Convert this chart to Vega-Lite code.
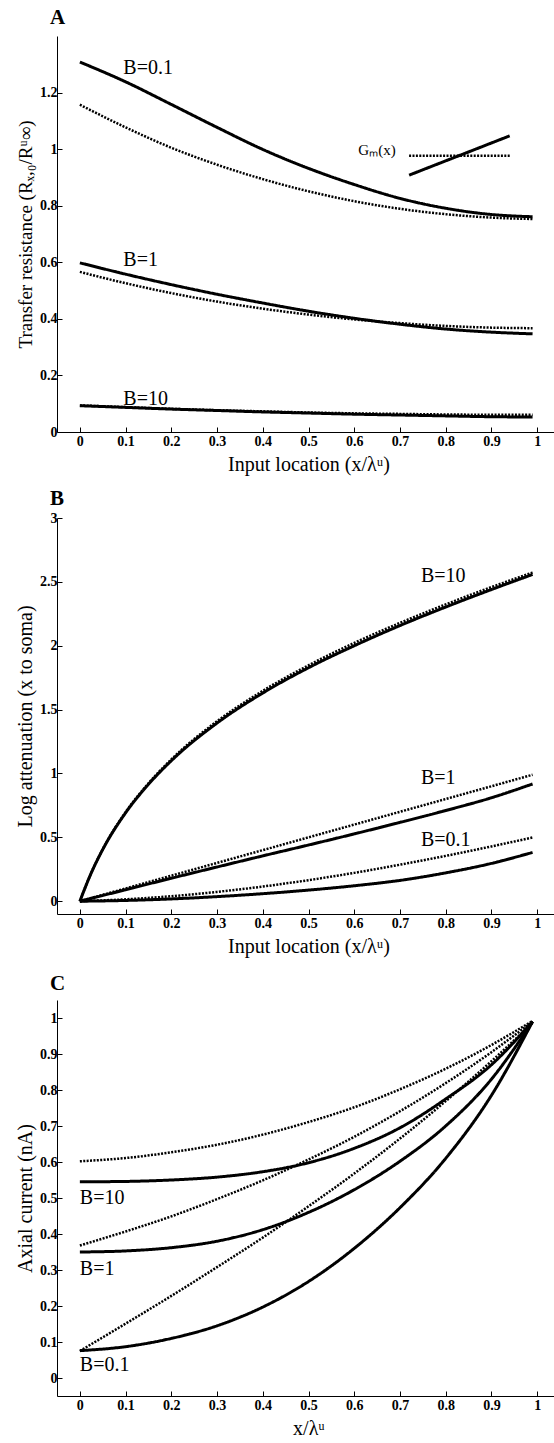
{
  "$schema": "https://vega.github.io/schema/vega-lite/v6.json",
  "background": "white",
  "padding": {"left": 15, "top": 7, "right": 0, "bottom": 0},
  "spacing": 86,
  "bounds": "flush",
  "config": {
    "view": {"stroke": null},
    "font": "Liberation Serif",
    "axis": {
      "grid": false, "domainColor": "black", "tickColor": "black", "labelColor": "black", "titleColor": "black",
      "labelFont": "Liberation Serif", "labelFontWeight": "bold", "labelFontSize": 14, "labelOverlap": false,
      "titleFont": "Liberation Serif", "titleFontSize": 20, "titleFontWeight": "normal",
      "tickSize": -5, "domainWidth": 1, "tickWidth": 1, "format": "~g"
    },
    "axisX": {"labelPadding": 7, "titlePadding": 6},
    "axisY": {"labelPadding": 5, "titlePadding": 4},
    "title": {"font": "Liberation Serif", "fontSize": 21, "fontWeight": "bold", "anchor": "start", "color": "black", "frame": "group"}
  },
  "datasets": {
    "curves": [
      {"p":"A","series":"b01s","style":"solid","x":0,"y":1.308},{"p":"A","series":"b01s","style":"solid","x":0.1,"y":1.238},{"p":"A","series":"b01s","style":"solid","x":0.2,"y":1.158},{"p":"A","series":"b01s","style":"solid","x":0.3,"y":1.077},{"p":"A","series":"b01s","style":"solid","x":0.4,"y":0.999},{"p":"A","series":"b01s","style":"solid","x":0.5,"y":0.932},{"p":"A","series":"b01s","style":"solid","x":0.6,"y":0.875},{"p":"A","series":"b01s","style":"solid","x":0.7,"y":0.826},{"p":"A","series":"b01s","style":"solid","x":0.8,"y":0.791},{"p":"A","series":"b01s","style":"solid","x":0.9,"y":0.769},{"p":"A","series":"b01s","style":"solid","x":0.99,"y":0.761},
      {"p":"A","series":"b01d","style":"dotted","x":0,"y":1.157},{"p":"A","series":"b01d","style":"dotted","x":0.1,"y":1.077},{"p":"A","series":"b01d","style":"dotted","x":0.2,"y":1.005},{"p":"A","series":"b01d","style":"dotted","x":0.3,"y":0.945},{"p":"A","series":"b01d","style":"dotted","x":0.4,"y":0.894},{"p":"A","series":"b01d","style":"dotted","x":0.5,"y":0.851},{"p":"A","series":"b01d","style":"dotted","x":0.6,"y":0.816},{"p":"A","series":"b01d","style":"dotted","x":0.7,"y":0.789},{"p":"A","series":"b01d","style":"dotted","x":0.8,"y":0.77},{"p":"A","series":"b01d","style":"dotted","x":0.9,"y":0.758},{"p":"A","series":"b01d","style":"dotted","x":0.99,"y":0.753},
      {"p":"A","series":"b1s","style":"solid","x":0,"y":0.598},{"p":"A","series":"b1s","style":"solid","x":0.1,"y":0.558},{"p":"A","series":"b1s","style":"solid","x":0.2,"y":0.521},{"p":"A","series":"b1s","style":"solid","x":0.3,"y":0.487},{"p":"A","series":"b1s","style":"solid","x":0.4,"y":0.456},{"p":"A","series":"b1s","style":"solid","x":0.5,"y":0.427},{"p":"A","series":"b1s","style":"solid","x":0.6,"y":0.402},{"p":"A","series":"b1s","style":"solid","x":0.7,"y":0.381},{"p":"A","series":"b1s","style":"solid","x":0.8,"y":0.364},{"p":"A","series":"b1s","style":"solid","x":0.9,"y":0.353},{"p":"A","series":"b1s","style":"solid","x":0.99,"y":0.347},
      {"p":"A","series":"b1d","style":"dotted","x":0,"y":0.566},{"p":"A","series":"b1d","style":"dotted","x":0.1,"y":0.526},{"p":"A","series":"b1d","style":"dotted","x":0.2,"y":0.491},{"p":"A","series":"b1d","style":"dotted","x":0.3,"y":0.461},{"p":"A","series":"b1d","style":"dotted","x":0.4,"y":0.436},{"p":"A","series":"b1d","style":"dotted","x":0.5,"y":0.415},{"p":"A","series":"b1d","style":"dotted","x":0.6,"y":0.398},{"p":"A","series":"b1d","style":"dotted","x":0.7,"y":0.385},{"p":"A","series":"b1d","style":"dotted","x":0.8,"y":0.375},{"p":"A","series":"b1d","style":"dotted","x":0.9,"y":0.369},{"p":"A","series":"b1d","style":"dotted","x":0.99,"y":0.367},
      {"p":"A","series":"b10s","style":"solid","x":0,"y":0.093},{"p":"A","series":"b10s","style":"solid","x":0.1,"y":0.087},{"p":"A","series":"b10s","style":"solid","x":0.2,"y":0.081},{"p":"A","series":"b10s","style":"solid","x":0.3,"y":0.076},{"p":"A","series":"b10s","style":"solid","x":0.4,"y":0.071},{"p":"A","series":"b10s","style":"solid","x":0.5,"y":0.067},{"p":"A","series":"b10s","style":"solid","x":0.6,"y":0.063},{"p":"A","series":"b10s","style":"solid","x":0.7,"y":0.06},{"p":"A","series":"b10s","style":"solid","x":0.8,"y":0.057},{"p":"A","series":"b10s","style":"solid","x":0.9,"y":0.054},{"p":"A","series":"b10s","style":"solid","x":0.99,"y":0.053},
      {"p":"A","series":"b10d","style":"dotted","x":0,"y":0.094},{"p":"A","series":"b10d","style":"dotted","x":0.1,"y":0.088},{"p":"A","series":"b10d","style":"dotted","x":0.2,"y":0.082},{"p":"A","series":"b10d","style":"dotted","x":0.3,"y":0.077},{"p":"A","series":"b10d","style":"dotted","x":0.4,"y":0.073},{"p":"A","series":"b10d","style":"dotted","x":0.5,"y":0.069},{"p":"A","series":"b10d","style":"dotted","x":0.6,"y":0.066},{"p":"A","series":"b10d","style":"dotted","x":0.7,"y":0.064},{"p":"A","series":"b10d","style":"dotted","x":0.8,"y":0.062},{"p":"A","series":"b10d","style":"dotted","x":0.9,"y":0.061},{"p":"A","series":"b10d","style":"dotted","x":0.99,"y":0.061},
      {"p":"A","series":"gms","style":"solid","x":0.72,"y":0.908},{"p":"A","series":"gms","style":"solid","x":0.94,"y":1.047},
      {"p":"A","series":"gmd","style":"dotted","x":0.72,"y":0.977},{"p":"A","series":"gmd","style":"dotted","x":0.94,"y":0.977},

      {"p":"B","series":"b10d","style":"dotted","x":0,"y":0},{"p":"B","series":"b10d","style":"dotted","x":0.025,"y":0.223},{"p":"B","series":"b10d","style":"dotted","x":0.05,"y":0.407},{"p":"B","series":"b10d","style":"dotted","x":0.1,"y":0.697},{"p":"B","series":"b10d","style":"dotted","x":0.15,"y":0.923},{"p":"B","series":"b10d","style":"dotted","x":0.2,"y":1.11},{"p":"B","series":"b10d","style":"dotted","x":0.3,"y":1.409},{"p":"B","series":"b10d","style":"dotted","x":0.4,"y":1.647},{"p":"B","series":"b10d","style":"dotted","x":0.5,"y":1.847},{"p":"B","series":"b10d","style":"dotted","x":0.6,"y":2.022},{"p":"B","series":"b10d","style":"dotted","x":0.7,"y":2.179},{"p":"B","series":"b10d","style":"dotted","x":0.8,"y":2.324},{"p":"B","series":"b10d","style":"dotted","x":0.9,"y":2.459},{"p":"B","series":"b10d","style":"dotted","x":0.99,"y":2.573},
      {"p":"B","series":"b10s","style":"solid","x":0,"y":0},{"p":"B","series":"b10s","style":"solid","x":0.025,"y":0.222},{"p":"B","series":"b10s","style":"solid","x":0.05,"y":0.405},{"p":"B","series":"b10s","style":"solid","x":0.1,"y":0.692},{"p":"B","series":"b10s","style":"solid","x":0.15,"y":0.915},{"p":"B","series":"b10s","style":"solid","x":0.2,"y":1.1},{"p":"B","series":"b10s","style":"solid","x":0.3,"y":1.395},{"p":"B","series":"b10s","style":"solid","x":0.4,"y":1.63},{"p":"B","series":"b10s","style":"solid","x":0.5,"y":1.828},{"p":"B","series":"b10s","style":"solid","x":0.6,"y":2.0},{"p":"B","series":"b10s","style":"solid","x":0.7,"y":2.158},{"p":"B","series":"b10s","style":"solid","x":0.8,"y":2.303},{"p":"B","series":"b10s","style":"solid","x":0.9,"y":2.44},{"p":"B","series":"b10s","style":"solid","x":0.99,"y":2.558},
      {"p":"B","series":"b1d","style":"dotted","x":0,"y":0},{"p":"B","series":"b1d","style":"dotted","x":0.2,"y":0.2},{"p":"B","series":"b1d","style":"dotted","x":0.4,"y":0.4},{"p":"B","series":"b1d","style":"dotted","x":0.6,"y":0.6},{"p":"B","series":"b1d","style":"dotted","x":0.8,"y":0.8},{"p":"B","series":"b1d","style":"dotted","x":0.99,"y":0.99},
      {"p":"B","series":"b1s","style":"solid","x":0,"y":0},{"p":"B","series":"b1s","style":"solid","x":0.1,"y":0.09},{"p":"B","series":"b1s","style":"solid","x":0.2,"y":0.18},{"p":"B","series":"b1s","style":"solid","x":0.3,"y":0.268},{"p":"B","series":"b1s","style":"solid","x":0.4,"y":0.355},{"p":"B","series":"b1s","style":"solid","x":0.5,"y":0.44},{"p":"B","series":"b1s","style":"solid","x":0.6,"y":0.527},{"p":"B","series":"b1s","style":"solid","x":0.7,"y":0.617},{"p":"B","series":"b1s","style":"solid","x":0.8,"y":0.71},{"p":"B","series":"b1s","style":"solid","x":0.9,"y":0.81},{"p":"B","series":"b1s","style":"solid","x":0.99,"y":0.918},
      {"p":"B","series":"b01d","style":"dotted","x":0,"y":0},{"p":"B","series":"b01d","style":"dotted","x":0.1,"y":0.015},{"p":"B","series":"b01d","style":"dotted","x":0.2,"y":0.039},{"p":"B","series":"b01d","style":"dotted","x":0.3,"y":0.073},{"p":"B","series":"b01d","style":"dotted","x":0.4,"y":0.115},{"p":"B","series":"b01d","style":"dotted","x":0.5,"y":0.165},{"p":"B","series":"b01d","style":"dotted","x":0.6,"y":0.222},{"p":"B","series":"b01d","style":"dotted","x":0.7,"y":0.286},{"p":"B","series":"b01d","style":"dotted","x":0.8,"y":0.355},{"p":"B","series":"b01d","style":"dotted","x":0.9,"y":0.429},{"p":"B","series":"b01d","style":"dotted","x":0.99,"y":0.499},
      {"p":"B","series":"b01s","style":"solid","x":0,"y":0},{"p":"B","series":"b01s","style":"solid","x":0.1,"y":0.006},{"p":"B","series":"b01s","style":"solid","x":0.2,"y":0.018},{"p":"B","series":"b01s","style":"solid","x":0.3,"y":0.036},{"p":"B","series":"b01s","style":"solid","x":0.4,"y":0.059},{"p":"B","series":"b01s","style":"solid","x":0.5,"y":0.087},{"p":"B","series":"b01s","style":"solid","x":0.6,"y":0.121},{"p":"B","series":"b01s","style":"solid","x":0.7,"y":0.163},{"p":"B","series":"b01s","style":"solid","x":0.8,"y":0.222},{"p":"B","series":"b01s","style":"solid","x":0.9,"y":0.296},{"p":"B","series":"b01s","style":"solid","x":0.99,"y":0.382},

      {"p":"C","series":"b10d","style":"dotted","x":0,"y":0.602},{"p":"C","series":"b10d","style":"dotted","x":0.1,"y":0.611},{"p":"C","series":"b10d","style":"dotted","x":0.2,"y":0.627},{"p":"C","series":"b10d","style":"dotted","x":0.3,"y":0.648},{"p":"C","series":"b10d","style":"dotted","x":0.4,"y":0.676},{"p":"C","series":"b10d","style":"dotted","x":0.5,"y":0.711},{"p":"C","series":"b10d","style":"dotted","x":0.6,"y":0.752},{"p":"C","series":"b10d","style":"dotted","x":0.7,"y":0.802},{"p":"C","series":"b10d","style":"dotted","x":0.8,"y":0.859},{"p":"C","series":"b10d","style":"dotted","x":0.9,"y":0.925},{"p":"C","series":"b10d","style":"dotted","x":0.99,"y":0.992},
      {"p":"C","series":"b1d","style":"dotted","x":0,"y":0.368},{"p":"C","series":"b1d","style":"dotted","x":0.1,"y":0.407},{"p":"C","series":"b1d","style":"dotted","x":0.2,"y":0.449},{"p":"C","series":"b1d","style":"dotted","x":0.3,"y":0.497},{"p":"C","series":"b1d","style":"dotted","x":0.4,"y":0.549},{"p":"C","series":"b1d","style":"dotted","x":0.5,"y":0.607},{"p":"C","series":"b1d","style":"dotted","x":0.6,"y":0.67},{"p":"C","series":"b1d","style":"dotted","x":0.7,"y":0.741},{"p":"C","series":"b1d","style":"dotted","x":0.8,"y":0.819},{"p":"C","series":"b1d","style":"dotted","x":0.9,"y":0.905},{"p":"C","series":"b1d","style":"dotted","x":0.99,"y":0.99},
      {"p":"C","series":"b01d","style":"dotted","x":0,"y":0.075},{"p":"C","series":"b01d","style":"dotted","x":0.1,"y":0.151},{"p":"C","series":"b01d","style":"dotted","x":0.2,"y":0.228},{"p":"C","series":"b01d","style":"dotted","x":0.3,"y":0.308},{"p":"C","series":"b01d","style":"dotted","x":0.4,"y":0.39},{"p":"C","series":"b01d","style":"dotted","x":0.5,"y":0.477},{"p":"C","series":"b01d","style":"dotted","x":0.6,"y":0.568},{"p":"C","series":"b01d","style":"dotted","x":0.7,"y":0.665},{"p":"C","series":"b01d","style":"dotted","x":0.8,"y":0.769},{"p":"C","series":"b01d","style":"dotted","x":0.9,"y":0.88},{"p":"C","series":"b01d","style":"dotted","x":0.99,"y":0.986},
      {"p":"C","series":"b10s","style":"solid","x":0,"y":0.545},{"p":"C","series":"b10s","style":"solid","x":0.1,"y":0.546},{"p":"C","series":"b10s","style":"solid","x":0.2,"y":0.55},{"p":"C","series":"b10s","style":"solid","x":0.3,"y":0.558},{"p":"C","series":"b10s","style":"solid","x":0.4,"y":0.573},{"p":"C","series":"b10s","style":"solid","x":0.5,"y":0.598},{"p":"C","series":"b10s","style":"solid","x":0.6,"y":0.638},{"p":"C","series":"b10s","style":"solid","x":0.7,"y":0.695},{"p":"C","series":"b10s","style":"solid","x":0.8,"y":0.775},{"p":"C","series":"b10s","style":"solid","x":0.9,"y":0.87},{"p":"C","series":"b10s","style":"solid","x":0.99,"y":0.99},
      {"p":"C","series":"b1s","style":"solid","x":0,"y":0.35},{"p":"C","series":"b1s","style":"solid","x":0.1,"y":0.353},{"p":"C","series":"b1s","style":"solid","x":0.2,"y":0.362},{"p":"C","series":"b1s","style":"solid","x":0.3,"y":0.38},{"p":"C","series":"b1s","style":"solid","x":0.4,"y":0.412},{"p":"C","series":"b1s","style":"solid","x":0.5,"y":0.46},{"p":"C","series":"b1s","style":"solid","x":0.6,"y":0.523},{"p":"C","series":"b1s","style":"solid","x":0.7,"y":0.602},{"p":"C","series":"b1s","style":"solid","x":0.8,"y":0.7},{"p":"C","series":"b1s","style":"solid","x":0.9,"y":0.83},{"p":"C","series":"b1s","style":"solid","x":0.99,"y":0.99},
      {"p":"C","series":"b01s","style":"solid","x":0,"y":0.076},{"p":"C","series":"b01s","style":"solid","x":0.1,"y":0.087},{"p":"C","series":"b01s","style":"solid","x":0.2,"y":0.11},{"p":"C","series":"b01s","style":"solid","x":0.3,"y":0.145},{"p":"C","series":"b01s","style":"solid","x":0.4,"y":0.197},{"p":"C","series":"b01s","style":"solid","x":0.5,"y":0.268},{"p":"C","series":"b01s","style":"solid","x":0.6,"y":0.36},{"p":"C","series":"b01s","style":"solid","x":0.7,"y":0.473},{"p":"C","series":"b01s","style":"solid","x":0.8,"y":0.61},{"p":"C","series":"b01s","style":"solid","x":0.9,"y":0.785},{"p":"C","series":"b01s","style":"solid","x":0.99,"y":0.99}
    ],
    "labels": [
      {"p":"A","label":"B=0.1","x":0.095,"y":1.267},
      {"p":"A","label":"B=1","x":0.095,"y":0.588},
      {"p":"A","label":"B=10","x":0.095,"y":0.096},
      {"p":"B","label":"B=10","x":0.746,"y":2.498},
      {"p":"B","label":"B=1","x":0.746,"y":0.915},
      {"p":"B","label":"B=0.1","x":0.746,"y":0.43},
      {"p":"C","label":"B=10","x":0,"y":0.483},
      {"p":"C","label":"B=1","x":0,"y":0.286},
      {"p":"C","label":"B=0.1","x":0,"y":0.02}
    ],
    "gm": [{"label":"Gₘ(x)","x":0.609,"y":0.979}]
  },
  "vconcat": [
    {
      "width": 503, "height": 396,
      "title": {"text": "A", "dx": -7, "dy": 20, "offset": 11, "baseline": "alphabetic"},
      "layer": [
        {
          "data": {"name": "curves"},
          "transform": [{"filter": "datum.p === 'A'"}],
          "mark": {"type": "line", "interpolate": "monotone", "color": "black"},
          "encoding": {
            "x": {"field": "x", "type": "quantitative", "scale": {"domain": [-0.05, 1.05], "nice": false, "zero": false},
                  "axis": {"values": [0,0.1,0.2,0.3,0.4,0.5,0.6,0.7,0.8,0.9,1], "labelOverlap": false, "title": "Input location (x/λᵘ)"}},
            "y": {"field": "y", "type": "quantitative", "scale": {"domain": [0, 1.4], "nice": false},
                  "axis": {"values": [0,0.2,0.4,0.6,0.8,1,1.2], "labelOverlap": false, "title": "Transfer resistance (Rₓ,₀/Rᵘ∞)", "titleFontSize": 19}},
            "detail": {"field": "series"},
            "strokeDash": {"field": "style", "type": "nominal", "scale": {"domain": ["solid","dotted"], "range": [[1,0],[2,1.4]]}, "legend": null},
            "strokeWidth": {"field": "style", "type": "nominal", "scale": {"domain": ["solid","dotted"], "range": [3,2.5]}, "legend": null}
          }
        },
        {
          "data": {"name": "labels"},
          "transform": [{"filter": "datum.p === 'A'"}],
          "mark": {"type": "text", "align": "left", "baseline": "alphabetic", "fontSize": 20, "font": "Liberation Serif", "color": "black"},
          "encoding": {"x": {"field": "x", "type": "quantitative"}, "y": {"field": "y", "type": "quantitative"}, "text": {"field": "label"}}
        },
        {
          "data": {"name": "gm"},
          "mark": {"type": "text", "align": "left", "baseline": "alphabetic", "fontSize": 15, "font": "Liberation Serif", "color": "black"},
          "encoding": {"x": {"field": "x", "type": "quantitative"}, "y": {"field": "y", "type": "quantitative"}, "text": {"field": "label"}}
        }
      ]
    },
    {
      "width": 503, "height": 396,
      "title": {"text": "B", "dx": -7, "dy": 26, "offset": 11, "baseline": "alphabetic"},
      "layer": [
        {
          "data": {"name": "curves"},
          "transform": [{"filter": "datum.p === 'B'"}],
          "mark": {"type": "line", "interpolate": "monotone", "color": "black"},
          "encoding": {
            "x": {"field": "x", "type": "quantitative", "scale": {"domain": [-0.05, 1.05], "nice": false, "zero": false},
                  "axis": {"values": [0,0.1,0.2,0.3,0.4,0.5,0.6,0.7,0.8,0.9,1], "labelOverlap": false, "title": "Input location (x/λᵘ)"}},
            "y": {"field": "y", "type": "quantitative", "scale": {"domain": [-0.1, 3], "nice": false, "zero": false},
                  "axis": {"values": [0,0.5,1,1.5,2,2.5,3], "labelOverlap": false, "title": "Log attenuation (x to soma)"}},
            "detail": {"field": "series"},
            "strokeDash": {"field": "style", "type": "nominal", "scale": {"domain": ["solid","dotted"], "range": [[1,0],[2,1.4]]}, "legend": null},
            "strokeWidth": {"field": "style", "type": "nominal", "scale": {"domain": ["solid","dotted"], "range": [3,2.5]}, "legend": null}
          }
        },
        {
          "data": {"name": "labels"},
          "transform": [{"filter": "datum.p === 'B'"}],
          "mark": {"type": "text", "align": "left", "baseline": "alphabetic", "fontSize": 20, "font": "Liberation Serif", "color": "black"},
          "encoding": {"x": {"field": "x", "type": "quantitative"}, "y": {"field": "y", "type": "quantitative"}, "text": {"field": "label"}}
        }
      ]
    },
    {
      "width": 503, "height": 396,
      "title": {"text": "C", "dx": -7, "dy": 22, "offset": 11, "baseline": "alphabetic"},
      "layer": [
        {
          "data": {"name": "curves"},
          "transform": [{"filter": "datum.p === 'C'"}],
          "mark": {"type": "line", "interpolate": "monotone", "color": "black"},
          "encoding": {
            "x": {"field": "x", "type": "quantitative", "scale": {"domain": [-0.05, 1.05], "nice": false, "zero": false},
                  "axis": {"values": [0,0.1,0.2,0.3,0.4,0.5,0.6,0.7,0.8,0.9,1], "labelOverlap": false, "title": "x/λᵘ"}},
            "y": {"field": "y", "type": "quantitative", "scale": {"domain": [-0.05, 1.05], "nice": false, "zero": false},
                  "axis": {"values": [0,0.1,0.2,0.3,0.4,0.5,0.6,0.7,0.8,0.9,1], "labelOverlap": false, "tickCount": 11, "title": "Axial current (nA)"}},
            "detail": {"field": "series"},
            "strokeDash": {"field": "style", "type": "nominal", "scale": {"domain": ["solid","dotted"], "range": [[1,0],[2,1.4]]}, "legend": null},
            "strokeWidth": {"field": "style", "type": "nominal", "scale": {"domain": ["solid","dotted"], "range": [3,2.5]}, "legend": null}
          }
        },
        {
          "data": {"name": "labels"},
          "transform": [{"filter": "datum.p === 'C'"}],
          "mark": {"type": "text", "align": "left", "baseline": "alphabetic", "fontSize": 20, "font": "Liberation Serif", "color": "black"},
          "encoding": {"x": {"field": "x", "type": "quantitative"}, "y": {"field": "y", "type": "quantitative"}, "text": {"field": "label"}}
        }
      ]
    }
  ]
}
